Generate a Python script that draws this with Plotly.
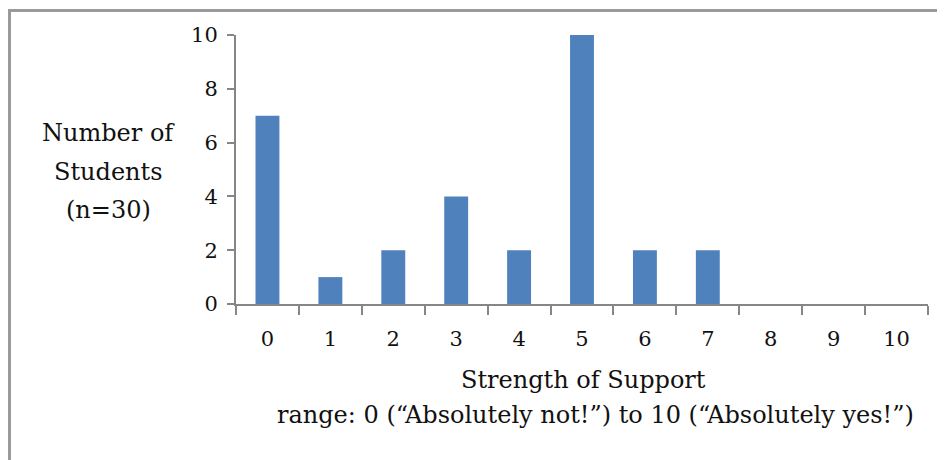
import plotly.graph_objects as go

categories = ["0", "1", "2", "3", "4", "5", "6", "7", "8", "9", "10"]
students = [7, 1, 2, 4, 2, 10, 2, 2, 0, 0, 0]
y_ticks = [0, 2, 4, 6, 8, 10]
y_title_lines = ["Number of", "Students", "(n=30)"]
x_title = "Strength of Support"
x_subtitle = "range: 0 (\u201cAbsolutely not!\u201d) to 10 (\u201cAbsolutely yes!\u201d)"

# page body has an 8px default margin; work in screen pixels and shift
OFF = 8
W, H = 945 - OFF, 460 - OFF
PL, PR, PT, PB = 236, 928, 35, 304          # plot area in screen pixels
L, R, T, B = PL - OFF, W - (PR - OFF), PT - OFF, H - (PB - OFF)
PW, PH = PR - PL, PB - PT

def px(x):
    return (x - PL) / PW

def py(y):
    return (PB - y) / PH

FONT = "DejaVu Serif, Liberation Serif, serif"
TXT = "#111111"
AX = "#868686"

fig = go.Figure(go.Bar(x=categories, y=students, marker_color="#4F81BD",
                       marker_line_width=0))

fig.update_layout(
    width=W, height=H,
    margin=dict(l=L, r=R, t=T, b=B, pad=0),
    paper_bgcolor="white", plot_bgcolor="white",
    bargap=0.62, showlegend=False,
    font=dict(family=FONT, size=22, color=TXT),
)
fig.update_xaxes(type="category", range=[-0.5, 10.5], showline=True,
                 linecolor=AX, linewidth=2, ticks="outside", tickson="boundaries",
                 ticklen=9, tickwidth=2, tickcolor=AX, showgrid=False,
                 ticklabelstandoff=15, tickfont=dict(family=FONT, size=21, color=TXT))
fig.update_yaxes(range=[0, 10], tickvals=y_ticks, showline=True, linecolor=AX,
                 linewidth=2, ticks="outside", ticklen=7, tickwidth=2, tickcolor=AX,
                 showgrid=False, zeroline=False, ticklabelstandoff=5,
                 tickfont=dict(family=FONT, size=21, color=TXT))

ann = []
for text, yy in zip(y_title_lines, [133, 172, 210]):
    ann.append(dict(text=text, x=px(108), y=py(yy), xref="paper", yref="paper",
                    showarrow=False, xanchor="center", yanchor="middle",
                    font=dict(family=FONT, size=24, color=TXT)))
ann.append(dict(text=x_title, x=px(583), y=py(380), xref="paper", yref="paper",
                showarrow=False, xanchor="center", yanchor="middle",
                font=dict(family=FONT, size=24, color=TXT)))
ann.append(dict(text=x_subtitle, x=px(595), y=py(415), xref="paper", yref="paper",
                showarrow=False, xanchor="center", yanchor="middle",
                font=dict(family=FONT, size=24, color=TXT)))
fig.update_layout(annotations=ann)

# outer frame (left and top edges visible)
fig.add_shape(type="line", xref="paper", yref="paper",
              x0=px(9.5), x1=px(9.5), y0=py(10.5), y1=py(480),
              line=dict(color="#9a9a9a", width=3))
fig.add_shape(type="line", xref="paper", yref="paper",
              x0=px(8), x1=px(980), y0=py(10.5), y1=py(10.5),
              line=dict(color="#9a9a9a", width=3))

fig.write_html("out.html")
